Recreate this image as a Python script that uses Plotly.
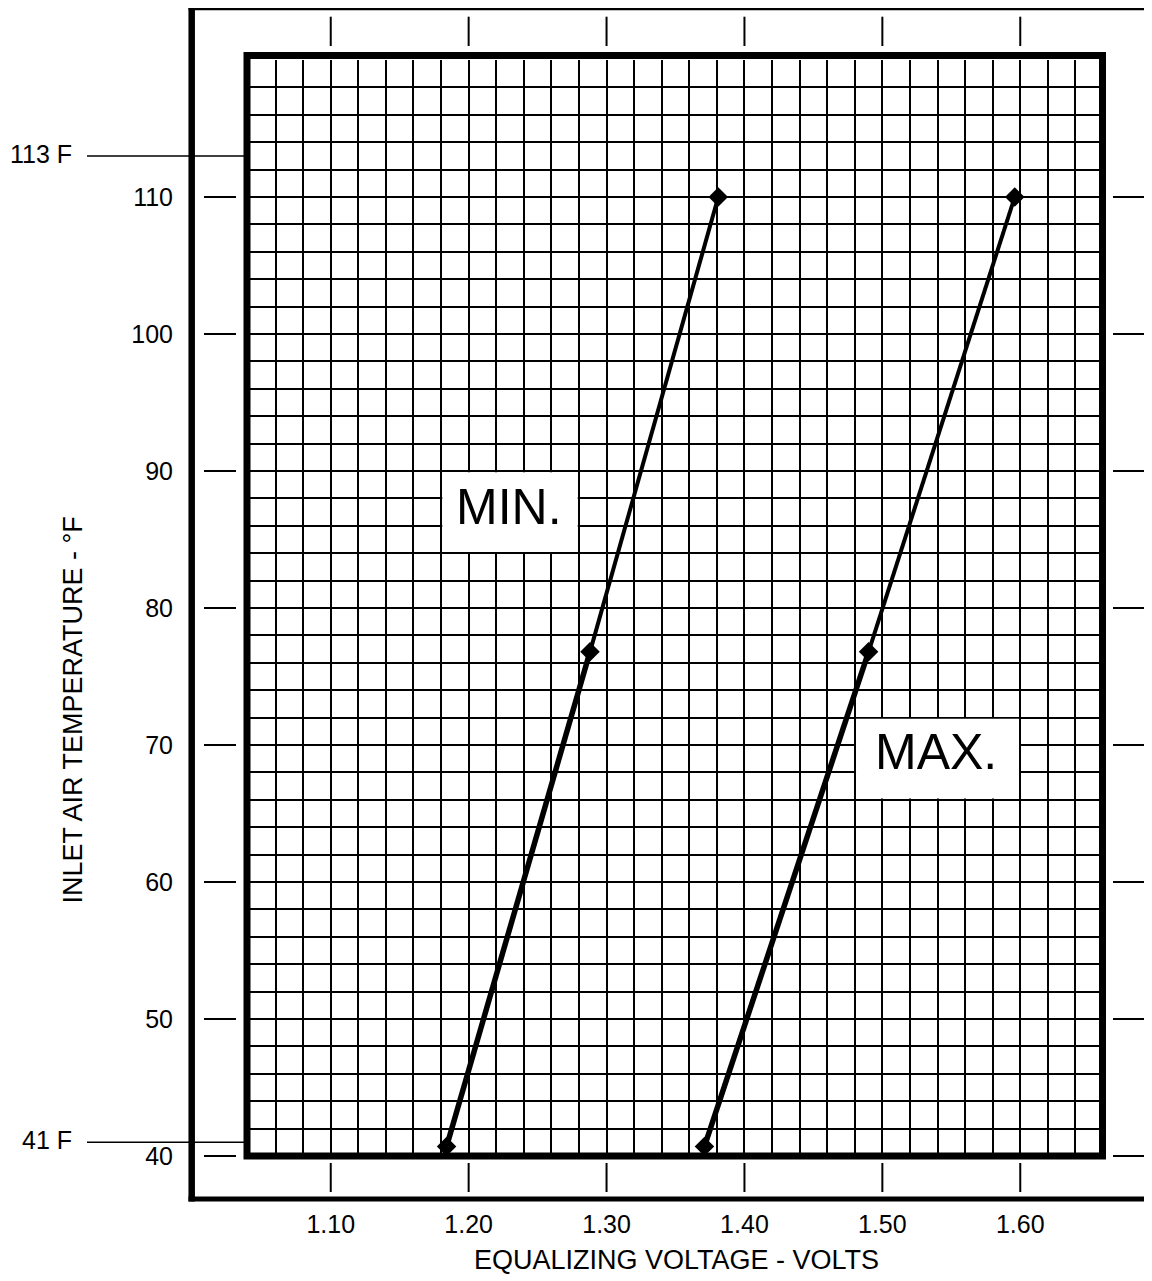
import plotly.graph_objects as go

# ---------------- data ----------------
volt_ticks = [1.10, 1.20, 1.30, 1.40, 1.50, 1.60]
volt_tick_labels = ["1.10", "1.20", "1.30", "1.40", "1.50", "1.60"]
temp_ticks = [40, 50, 60, 70, 80, 90, 100, 110]
temp_tick_labels = ["40", "50", "60", "70", "80", "90", "100", "110"]

min_volts = [1.184, 1.288, 1.381]
min_temps = [40.7, 76.8, 110.0]
max_volts = [1.371, 1.490, 1.596]
max_temps = [40.7, 76.8, 110.0]

limit_temps = [113, 41]
limit_labels = ["113 F", "41 F"]
series_labels = ["MIN.", "MAX."]

x_title = "EQUALIZING VOLTAGE - VOLTS"
y_title = "INLET AIR TEMPERATURE - °F"

# ---------------- geometry ----------------
W_FIG, H_FIG = 1152, 1281
OFF = 8  # page body margin: screen px = figure px + OFF
PL, PR, PT, PB = 240, 1095, 52, 1148  # plot area in figure px
ML, MR, MT, MB = PL, W_FIG - PR, PT, H_FIG - PB
X_RANGE = [1.04, 1.66]
Y_RANGE = [40, 120]
FONT = "Liberation Sans, Arial, sans-serif"


def xp(px):  # screen px -> paper x
    return (px - OFF - PL) / (PR - PL)


def yp(py):  # screen px -> paper y
    return (PB - (py - OFF)) / (PB - PT)


def vx(v):
    return (v - X_RANGE[0]) / (X_RANGE[1] - X_RANGE[0])


def vy(v):
    return (v - Y_RANGE[0]) / (Y_RANGE[1] - Y_RANGE[0])


fig = go.Figure()

# curves: lower segment heavier than upper segment
for volts, temps in [(min_volts, min_temps), (max_volts, max_temps)]:
    fig.add_trace(go.Scatter(x=volts[:2], y=temps[:2], mode="lines",
                             line=dict(color="black", width=5.5),
                             showlegend=False, hoverinfo="skip"))
    fig.add_trace(go.Scatter(x=volts[1:], y=temps[1:], mode="lines",
                             line=dict(color="black", width=4),
                             showlegend=False, hoverinfo="skip"))
    fig.add_trace(go.Scatter(x=volts, y=temps, mode="markers",
                             marker=dict(symbol="diamond", size=15, color="black"),
                             showlegend=False))

shapes = []
# inner heavy frame
shapes.append(dict(type="rect", xref="paper", yref="paper",
                   x0=xp(247), x1=xp(1102.5), y0=yp(1156), y1=yp(55.5),
                   line=dict(color="black", width=7), layer="above"))
# outer frame (right side beyond the image)
shapes.append(dict(type="line", xref="paper", yref="paper",
                   x0=xp(191.7), x1=xp(191.7), y0=yp(5), y1=yp(1201.5),
                   line=dict(color="black", width=6.5)))
shapes.append(dict(type="line", xref="paper", yref="paper",
                   x0=xp(188.5), x1=xp(1175), y0=yp(8), y1=yp(8),
                   line=dict(color="black", width=4.5)))
shapes.append(dict(type="line", xref="paper", yref="paper",
                   x0=xp(188.5), x1=xp(1175), y0=yp(1199), y1=yp(1199),
                   line=dict(color="black", width=5)))
# tick marks between frames
for t in temp_ticks:
    for a, b in [(204, 236), (1113, 1146)]:
        shapes.append(dict(type="line", xref="paper", yref="paper",
                           x0=xp(a), x1=xp(b), y0=vy(t), y1=vy(t),
                           line=dict(color="black", width=2)))
for v in volt_ticks:
    for a, b in [(16.7, 46), (1163, 1192)]:
        shapes.append(dict(type="line", xref="paper", yref="paper",
                           x0=vx(v), x1=vx(v), y0=yp(b), y1=yp(a),
                           line=dict(color="black", width=2)))
# limit lines
for t in limit_temps:
    shapes.append(dict(type="line", xref="paper", yref="paper",
                       x0=xp(87), x1=xp(246), y0=vy(t), y1=vy(t),
                       line=dict(color="black", width=1.5)))
# white label boxes (grid-aligned, inset so edge grid lines remain)
label_boxes = [(1.18, 1.28, 84, 90), (1.48, 1.60, 66, 72)]
for x0, x1, y0, y1 in label_boxes:
    shapes.append(dict(type="rect", xref="x", yref="y",
                       x0=x0 + 0.0009, x1=x1 - 0.0009, y0=y0 + 0.09, y1=y1 - 0.09,
                       fillcolor="white", line=dict(width=0), layer="between"))

annotations = []
for t, lab in zip(limit_temps, limit_labels):
    annotations.append(dict(xref="paper", yref="paper", x=xp(74), y=vy(t) + 0.002,
                            text=lab, showarrow=False, xanchor="right", yanchor="middle",
                            font=dict(size=25, color="black", family=FONT)))
label_pos = [(1.229, 87.4), (1.539, 69.5)]
for (x, y), lab in zip(label_pos, series_labels):
    annotations.append(dict(xref="x", yref="y", x=x, y=y, text=lab, showarrow=False,
                            xanchor="center", yanchor="middle",
                            font=dict(size=50, color="black", family=FONT)))
annotations.append(dict(xref="paper", yref="paper", x=xp(72.5), y=yp(710),
                        text=y_title, textangle=-90, showarrow=False,
                        xanchor="center", yanchor="middle",
                        font=dict(size=27, color="black", family=FONT)))
annotations.append(dict(xref="paper", yref="paper", x=xp(676.7), y=yp(1259.5),
                        text=x_title, showarrow=False,
                        xanchor="center", yanchor="middle",
                        font=dict(size=27, color="black", family=FONT)))

fig.update_layout(
    width=W_FIG, height=H_FIG,
    margin=dict(l=ML, r=MR, t=MT, b=MB, pad=0),
    paper_bgcolor="white", plot_bgcolor="white",
    font=dict(family=FONT, size=25, color="black"),
    shapes=shapes, annotations=annotations,
    showlegend=False,
)
fig.update_xaxes(range=X_RANGE, tickmode="array", tickvals=volt_ticks,
                 ticktext=volt_tick_labels, ticks="", ticklabelstandoff=51,
                 showgrid=True, gridcolor="black", gridwidth=2,
                 minor=dict(tickmode="linear", tick0=1.04, dtick=0.02,
                            showgrid=True, gridcolor="black", gridwidth=2),
                 showline=False, zeroline=False,
                 tickfont=dict(size=25, family=FONT, color="black"))
fig.update_yaxes(range=Y_RANGE, tickmode="array", tickvals=temp_ticks,
                 ticktext=temp_tick_labels, ticks="", ticklabelstandoff=74,
                 showgrid=True, gridcolor="black", gridwidth=2,
                 minor=dict(tickmode="linear", tick0=40, dtick=2,
                            showgrid=True, gridcolor="black", gridwidth=2),
                 showline=False, zeroline=False,
                 tickfont=dict(size=25, family=FONT, color="black"))

fig.write_html("out.html")
